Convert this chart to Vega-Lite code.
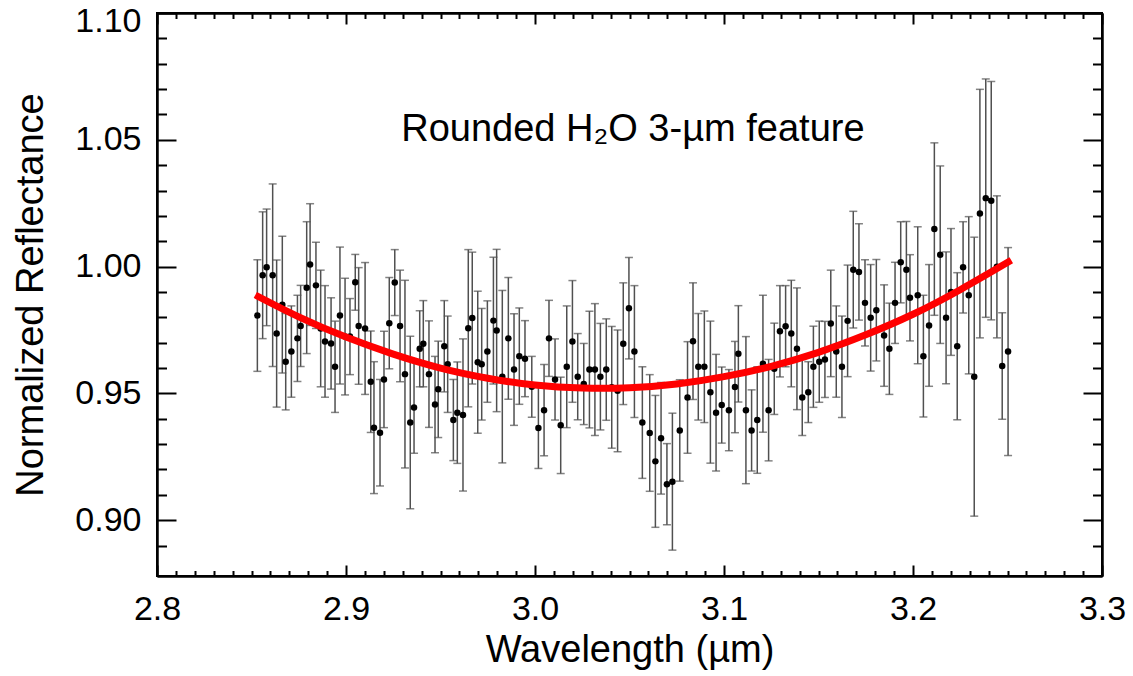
{
  "$schema": "https://vega.github.io/schema/vega-lite/v6.json",
  "width": 945,
  "height": 563,
  "autosize": {"type": "none"},
  "padding": {"left": 157, "top": 13, "right": 31, "bottom": 100},
  "background": "white",
  "config": {
    "view": {"stroke": "black", "strokeWidth": 2},
    "axis": {
      "grid": false,
      "domainColor": "black",
      "domainWidth": 2,
      "tickColor": "black",
      "tickWidth": 2,
      "labelFont": "Liberation Sans",
      "titleFont": "Liberation Sans",
      "labelFontSize": 34,
      "titleFontSize": 38,
      "titleFontWeight": "normal",
      "labelColor": "black",
      "titleColor": "black",
      "labelFlush": false,
      "labelOverlap": false
    }
  },
  "datasets": {
    "pts": [
      {"w": 2.8531, "r": 0.9807, "e": 0.022},
      {"w": 2.8559, "r": 0.9966, "e": 0.025},
      {"w": 2.8580, "r": 0.9997, "e": 0.023},
      {"w": 2.8612, "r": 0.9966, "e": 0.036},
      {"w": 2.8633, "r": 0.9736, "e": 0.029},
      {"w": 2.8663, "r": 0.9850, "e": 0.027},
      {"w": 2.8681, "r": 0.9625, "e": 0.019},
      {"w": 2.8711, "r": 0.9665, "e": 0.018},
      {"w": 2.8743, "r": 0.9717, "e": 0.017},
      {"w": 2.8760, "r": 0.9766, "e": 0.016},
      {"w": 2.8792, "r": 0.9917, "e": 0.026},
      {"w": 2.8810, "r": 1.0008, "e": 0.024},
      {"w": 2.8841, "r": 0.9926, "e": 0.017},
      {"w": 2.8866, "r": 0.9756, "e": 0.023},
      {"w": 2.8889, "r": 0.9705, "e": 0.022},
      {"w": 2.8921, "r": 0.9697, "e": 0.018},
      {"w": 2.8942, "r": 0.9605, "e": 0.018},
      {"w": 2.8968, "r": 0.9807, "e": 0.027},
      {"w": 2.8995, "r": 0.9724, "e": 0.023},
      {"w": 2.9021, "r": 0.9724, "e": 0.015},
      {"w": 2.9049, "r": 0.9938, "e": 0.011},
      {"w": 2.9067, "r": 0.9766, "e": 0.023},
      {"w": 2.9101, "r": 0.9756, "e": 0.026},
      {"w": 2.9131, "r": 0.9546, "e": 0.020},
      {"w": 2.9148, "r": 0.9365, "e": 0.026},
      {"w": 2.9180, "r": 0.9345, "e": 0.021},
      {"w": 2.9201, "r": 0.9555, "e": 0.019},
      {"w": 2.9229, "r": 0.9777, "e": 0.018},
      {"w": 2.9258, "r": 0.9937, "e": 0.013},
      {"w": 2.9286, "r": 0.9766, "e": 0.022},
      {"w": 2.9312, "r": 0.9576, "e": 0.037},
      {"w": 2.9340, "r": 0.9385, "e": 0.034},
      {"w": 2.9360, "r": 0.9444, "e": 0.018},
      {"w": 2.9390, "r": 0.9676, "e": 0.015},
      {"w": 2.9409, "r": 0.9696, "e": 0.017},
      {"w": 2.9439, "r": 0.9576, "e": 0.021},
      {"w": 2.9471, "r": 0.9456, "e": 0.019},
      {"w": 2.9488, "r": 0.9516, "e": 0.019},
      {"w": 2.9520, "r": 0.9686, "e": 0.018},
      {"w": 2.9538, "r": 0.9615, "e": 0.019},
      {"w": 2.9568, "r": 0.9395, "e": 0.016},
      {"w": 2.9589, "r": 0.9424, "e": 0.020},
      {"w": 2.9619, "r": 0.9415, "e": 0.030},
      {"w": 2.9647, "r": 0.9757, "e": 0.031},
      {"w": 2.9668, "r": 0.9797, "e": 0.026},
      {"w": 2.9697, "r": 0.9623, "e": 0.028},
      {"w": 2.9718, "r": 0.9615, "e": 0.022},
      {"w": 2.9748, "r": 0.9665, "e": 0.020},
      {"w": 2.9780, "r": 0.9787, "e": 0.025},
      {"w": 2.9797, "r": 0.9748, "e": 0.032},
      {"w": 2.9827, "r": 0.9566, "e": 0.034},
      {"w": 2.9859, "r": 0.9717, "e": 0.024},
      {"w": 2.9889, "r": 0.9594, "e": 0.022},
      {"w": 2.9917, "r": 0.9647, "e": 0.019},
      {"w": 2.9947, "r": 0.9637, "e": 0.015},
      {"w": 2.9983, "r": 0.9526, "e": 0.012},
      {"w": 3.0018, "r": 0.9364, "e": 0.016},
      {"w": 3.0048, "r": 0.9434, "e": 0.018},
      {"w": 3.0074, "r": 0.9717, "e": 0.015},
      {"w": 3.0106, "r": 0.9555, "e": 0.016},
      {"w": 3.0136, "r": 0.9374, "e": 0.019},
      {"w": 3.0168, "r": 0.9605, "e": 0.024},
      {"w": 3.0198, "r": 0.9705, "e": 0.024},
      {"w": 3.0226, "r": 0.9566, "e": 0.017},
      {"w": 3.0258, "r": 0.9537, "e": 0.016},
      {"w": 3.0288, "r": 0.9594, "e": 0.023},
      {"w": 3.0317, "r": 0.9594, "e": 0.026},
      {"w": 3.0346, "r": 0.9566, "e": 0.021},
      {"w": 3.0377, "r": 0.9594, "e": 0.020},
      {"w": 3.0406, "r": 0.9524, "e": 0.024},
      {"w": 3.0437, "r": 0.9510, "e": 0.024},
      {"w": 3.0467, "r": 0.9696, "e": 0.024},
      {"w": 3.0497, "r": 0.9836, "e": 0.020},
      {"w": 3.0526, "r": 0.9665, "e": 0.026},
      {"w": 3.0568, "r": 0.9385, "e": 0.022},
      {"w": 3.0607, "r": 0.9344, "e": 0.023},
      {"w": 3.0637, "r": 0.9232, "e": 0.026},
      {"w": 3.0667, "r": 0.9323, "e": 0.022},
      {"w": 3.0698, "r": 0.9142, "e": 0.016},
      {"w": 3.0727, "r": 0.9152, "e": 0.027},
      {"w": 3.0766, "r": 0.9354, "e": 0.020},
      {"w": 3.0807, "r": 0.9484, "e": 0.022},
      {"w": 3.0836, "r": 0.9706, "e": 0.023},
      {"w": 3.0864, "r": 0.9605, "e": 0.021},
      {"w": 3.0896, "r": 0.9605, "e": 0.022},
      {"w": 3.0928, "r": 0.9505, "e": 0.028},
      {"w": 3.0958, "r": 0.9424, "e": 0.023},
      {"w": 3.0988, "r": 0.9454, "e": 0.015},
      {"w": 3.1026, "r": 0.9434, "e": 0.016},
      {"w": 3.1058, "r": 0.9525, "e": 0.018},
      {"w": 3.1076, "r": 0.9656, "e": 0.019},
      {"w": 3.1116, "r": 0.9434, "e": 0.029},
      {"w": 3.1146, "r": 0.9354, "e": 0.016},
      {"w": 3.1176, "r": 0.9395, "e": 0.021},
      {"w": 3.1206, "r": 0.9617, "e": 0.027},
      {"w": 3.1236, "r": 0.9434, "e": 0.020},
      {"w": 3.1266, "r": 0.9597, "e": 0.018},
      {"w": 3.1296, "r": 0.9745, "e": 0.018},
      {"w": 3.1326, "r": 0.9765, "e": 0.016},
      {"w": 3.1356, "r": 0.9736, "e": 0.021},
      {"w": 3.1386, "r": 0.9676, "e": 0.024},
      {"w": 3.1414, "r": 0.9484, "e": 0.015},
      {"w": 3.1446, "r": 0.9505, "e": 0.012},
      {"w": 3.1473, "r": 0.9605, "e": 0.016},
      {"w": 3.1504, "r": 0.9625, "e": 0.016},
      {"w": 3.1534, "r": 0.9634, "e": 0.015},
      {"w": 3.1565, "r": 0.9776, "e": 0.021},
      {"w": 3.1594, "r": 0.9665, "e": 0.018},
      {"w": 3.1624, "r": 0.9605, "e": 0.020},
      {"w": 3.1654, "r": 0.9786, "e": 0.022},
      {"w": 3.1684, "r": 0.9988, "e": 0.023},
      {"w": 3.1714, "r": 0.9979, "e": 0.019},
      {"w": 3.1746, "r": 0.9857, "e": 0.017},
      {"w": 3.1776, "r": 0.9798, "e": 0.021},
      {"w": 3.1806, "r": 0.9828, "e": 0.020},
      {"w": 3.1847, "r": 0.9728, "e": 0.020},
      {"w": 3.1875, "r": 0.9676, "e": 0.018},
      {"w": 3.1905, "r": 0.9857, "e": 0.016},
      {"w": 3.1935, "r": 1.0017, "e": 0.016},
      {"w": 3.1965, "r": 0.9988, "e": 0.019},
      {"w": 3.1984, "r": 0.9877, "e": 0.017},
      {"w": 3.2025, "r": 0.9887, "e": 0.027},
      {"w": 3.2055, "r": 0.9647, "e": 0.024},
      {"w": 3.2085, "r": 0.9768, "e": 0.024},
      {"w": 3.2113, "r": 1.0148, "e": 0.034},
      {"w": 3.2144, "r": 1.0047, "e": 0.035},
      {"w": 3.2175, "r": 0.9798, "e": 0.026},
      {"w": 3.2201, "r": 0.9900, "e": 0.025},
      {"w": 3.2234, "r": 0.9686, "e": 0.029},
      {"w": 3.2265, "r": 0.9997, "e": 0.018},
      {"w": 3.2295, "r": 0.9887, "e": 0.031},
      {"w": 3.2324, "r": 0.9566, "e": 0.055},
      {"w": 3.2354, "r": 1.0209, "e": 0.049},
      {"w": 3.2385, "r": 1.0270, "e": 0.047},
      {"w": 3.2414, "r": 1.0260, "e": 0.047},
      {"w": 3.2444, "r": 0.9999, "e": 0.028},
      {"w": 3.2472, "r": 0.9608, "e": 0.021},
      {"w": 3.2503, "r": 0.9665, "e": 0.041}
    ],
    "fit": [
      {"w": 2.852, "r": 0.9888},
      {"w": 2.875, "r": 0.9802},
      {"w": 2.900, "r": 0.9722},
      {"w": 2.925, "r": 0.9655},
      {"w": 2.950, "r": 0.9600},
      {"w": 2.975, "r": 0.9560},
      {"w": 3.000, "r": 0.9533},
      {"w": 3.025, "r": 0.9521},
      {"w": 3.050, "r": 0.9522},
      {"w": 3.075, "r": 0.9537},
      {"w": 3.100, "r": 0.9566},
      {"w": 3.125, "r": 0.9607},
      {"w": 3.150, "r": 0.9662},
      {"w": 3.175, "r": 0.9731},
      {"w": 3.200, "r": 0.9812},
      {"w": 3.225, "r": 0.9909},
      {"w": 3.252, "r": 1.0025}
    ],
    "lab": [
      {"w": 3.0518, "r": 1.0539, "t": "Rounded H₂O 3-µm feature"}
    ]
  },
  "resolve": {"axis": {"x": "independent", "y": "independent"}},
  "layer": [
    {
      "data": {"name": "pts"},
      "mark": {
        "type": "errorbar",
        "color": "#505050",
        "thickness": 1.5,
        "ticks": {"size": 8, "color": "#505050", "thickness": 1.5}
      },
      "encoding": {
        "x": {"field": "w", "type": "quantitative",
              "scale": {"domain": [2.8, 3.3], "nice": false, "zero": false},
              "axis": {"orient": "top", "values": [2.8, 2.9, 3.0, 3.1, 3.2, 3.3], "tickSize": -11, "labels": false, "title": null}},
        "y": {"field": "r", "type": "quantitative",
              "scale": {"domain": [0.878, 1.1], "nice": false, "zero": false},
              "axis": {"orient": "right", "values": [0.90, 0.95, 1.00, 1.05, 1.10], "tickSize": -19, "labels": false, "title": null}},
        "yError": {"field": "e"}
      }
    },
    {
      "data": {"name": "pts"},
      "mark": {"type": "point", "filled": true, "color": "black", "size": 42, "opacity": 1},
      "encoding": {
        "x": {"field": "w", "type": "quantitative",
              "scale": {"domain": [2.8, 3.3], "nice": false, "zero": false},
              "axis": {"orient": "bottom", "values": [2.8, 2.9, 3.0, 3.1, 3.2, 3.3], "format": ".1f", "tickSize": -11, "labelPadding": 27, "title": "Wavelength (µm)", "titlePadding": 5}},
        "y": {"field": "r", "type": "quantitative",
              "scale": {"domain": [0.878, 1.1], "nice": false, "zero": false},
              "axis": {"orient": "left", "values": [0.90, 0.95, 1.00, 1.05, 1.10], "format": ".2f", "tickSize": -19, "labelPadding": 35, "labelFlush": true, "labelFlushOffset": 9, "title": "Normalized Reflectance", "titlePadding": 24}}
      }
    },
    {
      "data": {"name": "fit"},
      "mark": {"type": "line", "color": "#ff0000", "strokeWidth": 7, "interpolate": "natural"},
      "encoding": {
        "x": {"field": "w", "type": "quantitative",
              "scale": {"domain": [2.8, 3.3], "nice": false, "zero": false},
              "axis": {"orient": "bottom", "values": [2.81, 2.82, 2.83, 2.84, 2.85, 2.86, 2.87, 2.88, 2.89, 2.91, 2.92, 2.93, 2.94, 2.95, 2.96, 2.97, 2.98, 2.99, 3.01, 3.02, 3.03, 3.04, 3.05, 3.06, 3.07, 3.08, 3.09, 3.11, 3.12, 3.13, 3.14, 3.15, 3.16, 3.17, 3.18, 3.19, 3.21, 3.22, 3.23, 3.24, 3.25, 3.26, 3.27, 3.28, 3.29], "tickSize": -5.5, "labels": false, "title": null}},
        "y": {"field": "r", "type": "quantitative",
              "scale": {"domain": [0.878, 1.1], "nice": false, "zero": false},
              "axis": {"orient": "left", "values": [0.89, 0.91, 0.92, 0.93, 0.94, 0.96, 0.97, 0.98, 0.99, 1.01, 1.02, 1.03, 1.04, 1.06, 1.07, 1.08, 1.09], "tickSize": -9.5, "labels": false, "title": null}}
      }
    },
    {
      "data": {"name": "lab"},
      "mark": {"type": "text", "font": "Liberation Sans", "fontSize": 38, "color": "black", "align": "center", "baseline": "middle"},
      "encoding": {
        "x": {"field": "w", "type": "quantitative",
              "scale": {"domain": [2.8, 3.3], "nice": false, "zero": false},
              "axis": {"orient": "top", "values": [2.81, 2.82, 2.83, 2.84, 2.85, 2.86, 2.87, 2.88, 2.89, 2.91, 2.92, 2.93, 2.94, 2.95, 2.96, 2.97, 2.98, 2.99, 3.01, 3.02, 3.03, 3.04, 3.05, 3.06, 3.07, 3.08, 3.09, 3.11, 3.12, 3.13, 3.14, 3.15, 3.16, 3.17, 3.18, 3.19, 3.21, 3.22, 3.23, 3.24, 3.25, 3.26, 3.27, 3.28, 3.29], "tickSize": -5.5, "labels": false, "title": null}},
        "y": {"field": "r", "type": "quantitative",
              "scale": {"domain": [0.878, 1.1], "nice": false, "zero": false},
              "axis": {"orient": "right", "values": [0.89, 0.91, 0.92, 0.93, 0.94, 0.96, 0.97, 0.98, 0.99, 1.01, 1.02, 1.03, 1.04, 1.06, 1.07, 1.08, 1.09], "tickSize": -9.5, "labels": false, "title": null}},
        "text": {"field": "t"}
      }
    }
  ]
}
